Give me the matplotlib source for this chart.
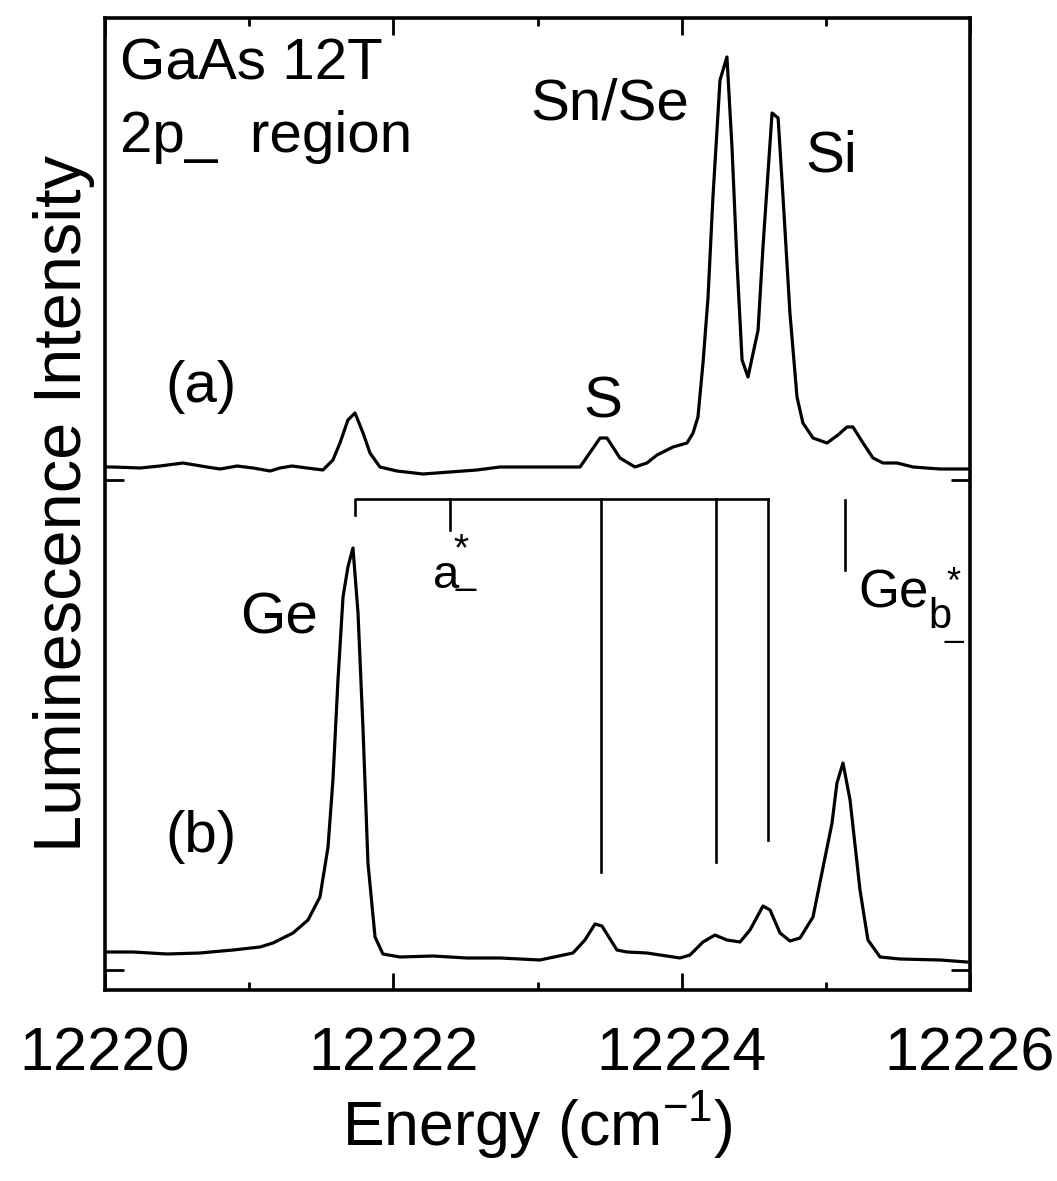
import matplotlib
matplotlib.use("Agg")
import matplotlib.pyplot as plt
from matplotlib.ticker import MultipleLocator

plt.rcParams['font.family'] = ['Liberation Sans', 'DejaVu Sans']
plt.rcParams['mathtext.fontset'] = 'custom'
plt.rcParams['mathtext.rm'] = 'Liberation Sans'
plt.rcParams['mathtext.default'] = 'regular'

# Spectrum (a): energy (cm^-1) and intensity (arb. units, offset included)
energy_a = [12220.014, 12220.055, 12220.243, 12220.381, 12220.541, 12220.707, 12220.798,
            12220.916, 12221.027, 12221.145, 12221.214, 12221.297, 12221.401, 12221.512,
            12221.581, 12221.630, 12221.685, 12221.734, 12221.790, 12221.838, 12221.907,
            12222.025, 12222.206, 12222.393, 12222.580, 12222.740, 12222.900, 12223.066,
            12223.295, 12223.434, 12223.482, 12223.572, 12223.676, 12223.759, 12223.829,
            12223.940, 12224.037, 12224.079, 12224.113, 12224.148, 12224.183, 12224.217,
            12224.266, 12224.314, 12224.349, 12224.384, 12224.419, 12224.460, 12224.530,
            12224.564, 12224.627, 12224.669, 12224.703, 12224.751, 12224.800, 12224.841,
            12224.911, 12225.008, 12225.084, 12225.147, 12225.188, 12225.258, 12225.327,
            12225.397, 12225.494, 12225.605, 12225.792, 12225.986]
intensity_a = [523, 523, 522, 524, 527, 523, 521,
               524, 522, 519, 522, 524, 522, 520,
               530, 547, 570, 577, 557, 537, 523,
               519, 516, 518, 520, 523, 523, 523,
               523, 552, 552, 532, 523, 527, 535,
               543, 547, 557, 573, 627, 693, 793,
               910, 933, 843, 727, 630, 613, 660,
               743, 877, 872, 793, 677, 593, 567,
               552, 547, 555, 563, 563, 547, 532,
               527, 527, 523, 521, 521]

# Spectrum (b)
energy_b = [12220.021, 12220.194, 12220.430, 12220.659, 12220.888, 12221.075, 12221.165,
            12221.304, 12221.408, 12221.491, 12221.547, 12221.581, 12221.616, 12221.651,
            12221.685, 12221.720, 12221.755, 12221.790, 12221.824, 12221.873, 12221.928,
            12222.046, 12222.275, 12222.511, 12222.740, 12223.017, 12223.246, 12223.329,
            12223.399, 12223.447, 12223.551, 12223.621, 12223.759, 12223.988, 12224.058,
            12224.148, 12224.231, 12224.314, 12224.405, 12224.474, 12224.564, 12224.613,
            12224.682, 12224.751, 12224.821, 12224.911, 12224.981, 12225.043, 12225.077,
            12225.119, 12225.168, 12225.237, 12225.292, 12225.376, 12225.514, 12225.792,
            12225.979]
intensity_b = [38, 38, 36, 37, 40, 43, 47,
               57, 70, 93, 143, 210, 310, 393,
               423, 442, 377, 260, 127, 53, 36,
               33, 34, 32, 32, 30, 37, 50,
               66, 64, 40, 38, 37, 32, 35,
               48, 55, 50, 48, 60, 84, 80,
               57, 49, 52, 73, 123, 167, 207,
               227, 190, 100, 50, 33, 31, 30,
               28]

# Level-scheme markers
bracket_left = 12221.734
bracket_right = 12224.599
bracket_level = 491
bracket_left_end = 475
a_star_pos = 12222.393
a_star_end = 460
line_positions = [12223.440, 12224.238, 12224.599]
line_ends = [118, 128, 150]
geb_pos = 12225.133
geb_range = (420, 490)

x_ticks_major = [12220, 12222, 12224, 12226]
y_ticks = [510, 20]

fig = plt.figure(figsize=(10.57, 11.81), dpi=100)
ax = fig.add_axes([105 / 1057, 1 - 990 / 1181, 865 / 1057, 972 / 1181])


def ex(px):
    """Horizontal figure pixel -> energy."""
    return 12220 + (px - 105) / 865 * 6


def iy(py):
    """Vertical figure pixel (from top) -> intensity units."""
    return 990 - py


lw = 2.3
ax.plot(energy_a, intensity_a, color='black', lw=lw, solid_joinstyle='round')
ax.plot(energy_b, intensity_b, color='black', lw=lw, solid_joinstyle='round')

# bracket linking the transitions
mlw = 1.9
ax.plot([bracket_left, bracket_left, bracket_right],
        [bracket_left_end, bracket_level, bracket_level], color='black', lw=mlw)
ax.plot([a_star_pos, a_star_pos], [bracket_level, a_star_end], color='black', lw=mlw)
for xp, ye in zip(line_positions, line_ends):
    ax.plot([xp, xp], [bracket_level, ye], color='black', lw=mlw)
ax.plot([geb_pos, geb_pos], list(geb_range), color='black', lw=mlw)

ax.set_xlim(12220, 12226)
ax.set_ylim(0, 972)
ax.xaxis.set_minor_locator(MultipleLocator(1))
ax.set_xticks(x_ticks_major)
ax.set_xticklabels([str(t) for t in x_ticks_major], fontsize=44)
ax.set_yticks(y_ticks)
ax.set_yticklabels([])
ax.tick_params(axis='x', which='major', direction='in', length=12, width=2,
               top=True, pad=26)
ax.tick_params(axis='x', which='minor', direction='in', length=6, width=2, top=True)
ax.tick_params(axis='y', which='major', direction='in', length=14, width=2, right=True)
for s in ax.spines.values():
    s.set_linewidth(2.6)

ax.set_xlabel('Energy (cm$^{-1}$)', fontsize=45, labelpad=4)
ax.set_ylabel('Luminescence Intensity', fontsize=48, labelpad=4)

fs = 42
txt = dict(fontsize=fs, va='top', ha='left')
ax.text(ex(120), iy(38), 'GaAs 12T', **txt)
ax.text(ex(120), iy(110), '2p_  region', **txt)
ax.text(ex(530), iy(78), 'Sn/Se', **txt)
ax.text(ex(805), iy(130), 'Si', **txt)
ax.text(ex(583), iy(376), 'S', **txt)
ax.text(ex(165), iy(360), '(a)', **txt)
ax.text(ex(240), iy(592), 'Ge', **txt)
ax.text(ex(165), iy(810), '(b)', **txt)

# a*_ label
ax.text(ex(433), iy(588), 'a', fontsize=34, va='baseline', ha='left')
ax.text(ex(453), iy(532), '*', fontsize=28, va='top', ha='left')
ax.text(ex(456), iy(584), '_', fontsize=26, va='baseline', ha='left')

# Ge_b*_ label
ax.text(ex(858), iy(568), 'Ge', fontsize=38, va='top', ha='left')
ax.text(ex(928), iy(628), 'b', fontsize=30, va='baseline', ha='left')
ax.text(ex(946), iy(566), '*', fontsize=26, va='top', ha='left')
ax.text(ex(944), iy(636), '_', fontsize=24, va='baseline', ha='left')

fig.savefig('out.png', dpi=100)
